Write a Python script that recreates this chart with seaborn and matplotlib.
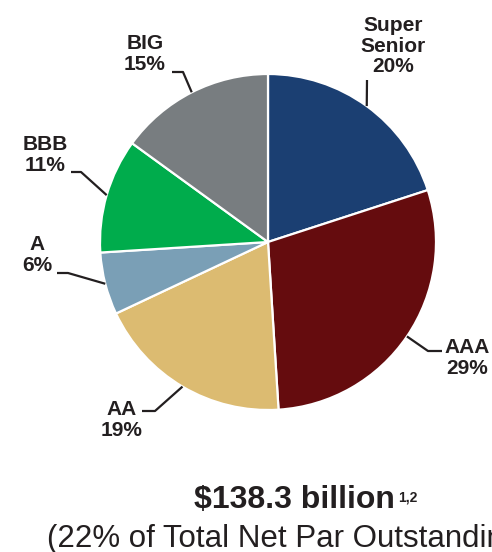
import numpy as np
import matplotlib
matplotlib.use("Agg")
import matplotlib.pyplot as plt
import seaborn as sns

# Rating distribution of the insured portfolio
categories = ["Super\nSenior", "AAA", "AA", "A", "BBB", "BIG"]
shares = [20, 29, 19, 6, 11, 15]
colors = ["#1b3f72", "#650c0e", "#dcbb71", "#7a9fb6", "#00ac4c", "#787d80"]

total_label = "$138.3 billion"
total_note = "1,2"
subtitle = "(22% of Total Net Par Outstanding)"

sns.set_theme(style="white")
plt.rcParams["font.family"] = ["Liberation Sans", "DejaVu Sans"]

W, H = 492, 552
fig = plt.figure(figsize=(W / 100, H / 100), dpi=100)
ax = fig.add_axes([0, 0, 1, 1])

def Y(y):
    return H - y

cx, cy, R = 268, Y(242), 168
wedges, _ = ax.pie(shares, colors=colors, startangle=90, counterclock=False,
                   center=(cx, cy), radius=R,
                   wedgeprops=dict(edgecolor="white", linewidth=1.6))
ax.set_xlim(0, W)
ax.set_ylim(0, H)
ax.set_aspect("equal")
ax.axis("off")

ink = "#231f20"
# label block centre (px) and leader path after the wedge edge point
layout = {
    "Super\nSenior": dict(text=(393, 46), path=[(367, 80)]),
    "AAA": dict(text=(467, 358), path=[(428, 351), (442, 351)]),
    "AA": dict(text=(122, 420), path=[(155, 411), (142, 411)]),
    "A": dict(text=(37, 255), path=[(68, 273), (57, 273)]),
    "BBB": dict(text=(45, 155), path=[(81, 172), (71, 172)]),
    "BIG": dict(text=(145, 54), path=[(183, 72), (172, 72)]),
}

for w, cat, s in zip(wedges, categories, shares):
    mid = np.deg2rad((w.theta1 + w.theta2) / 2)
    ex, ey = cx + R * np.cos(mid), cy + R * np.sin(mid)
    lay = layout[cat]
    xs = [ex] + [p[0] for p in lay["path"]]
    ys = [ey] + [Y(p[1]) for p in lay["path"]]
    ax.plot(xs, ys, color=ink, lw=1.6, solid_capstyle="butt", zorder=3)
    tx, ty = lay["text"]
    ax.text(tx, Y(ty), f"{cat}\n{s}%", ha="center", va="center",
            fontsize=15, fontweight="bold", color=ink, linespacing=1.12)

ax.text(194, Y(508), total_label, ha="left", va="baseline",
        fontsize=23, fontweight="bold", color=ink)
ax.text(398, Y(502), total_note, ha="left", va="baseline",
        fontsize=10, fontweight="bold", color=ink)
ax.text(47, Y(547), subtitle, ha="left", va="baseline",
        fontsize=22.5, color=ink)

fig.savefig("out.png", dpi=100)
